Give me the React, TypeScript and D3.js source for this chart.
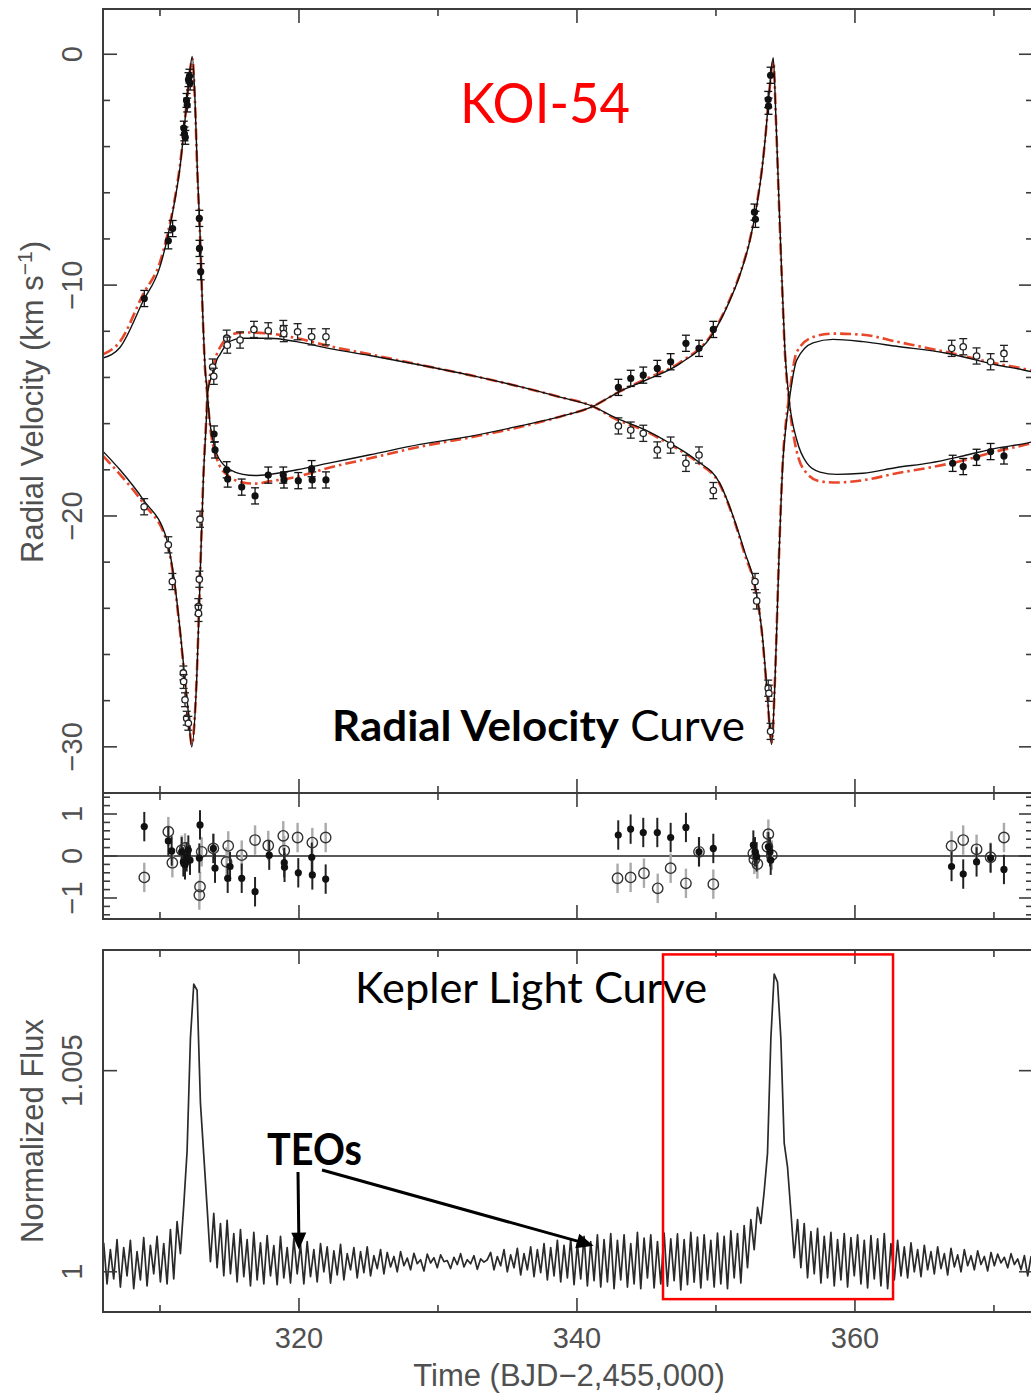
import React from 'react';
import * as d3 from 'd3';

// ---------------- DATA ----------------
// x tick values (BJD-2,455,000)
const xMajorTicks = [320, 340, 360];
const xMinorTicks = [310, 330, 350, 370];
const rvMajorTicks = [0, -10, -20, -30];
const resMajorTicks = [1, 0, -1];
const lcMajorTicks = [1, 1.005];

// Model curves (time, RV km/s)
const modelA: [number, number][] = [
  [305.90, -13.16], [307.12, -12.7], [308.78, -10.7], [310.00, -9.2], [310.50, -8.05], [311.08, -6.3],
  [311.44, -4.9], [311.80, -2.86], [312.09, -1.13], [312.32, -0.1], [312.52, -2.0], [312.68, -4.9],
  [312.88, -7.75], [313.04, -10.65], [313.24, -13.5], [313.41, -14.7], [313.60, -16.0], [313.81, -16.7],
  [314.08, -17.3], [314.46, -17.7], [314.80, -17.9], [315.40, -18.1], [315.97, -18.2], [316.84, -18.25],
  [317.91, -18.2], [319.86, -18.0], [322.23, -17.7], [325.11, -17.35], [328.71, -16.9], [332.30, -16.55],
  [335.90, -16.1], [338.78, -15.7], [341.15, -15.25], [343.09, -14.6], [345.02, -14.1], [347.41, -13.4],
  [349.78, -12.1], [351.01, -10.65], [351.73, -9.55], [352.45, -8.05], [352.95, -6.5], [353.31, -5.0],
  [353.60, -3.3], [353.81, -1.8], [354.12, -0.15], [354.32, -2.86], [354.53, -6.3], [354.75, -9.8],
  [354.96, -12.8], [355.27, -15.0], [355.81, -16.7], [356.53, -17.7], [357.48, -18.1], [358.68, -18.2],
  [360.58, -18.15], [363.00, -17.9], [365.40, -17.7], [367.77, -17.4], [370.20, -17.06], [372.66, -16.8],
  [372.95, -16.75],
];
const modelB: [number, number][] = [
  [305.90, -17.2], [307.12, -18.0], [308.80, -19.3], [310.48, -21.0], [310.96, -22.5], [311.44, -24.9],
  [311.80, -27.1], [312.04, -28.5], [312.28, -30.0], [312.64, -27.1], [312.88, -22.8], [313.12, -18.4],
  [313.36, -15.5], [313.41, -14.75], [313.60, -14.15], [313.84, -13.8], [314.08, -13.25], [314.32, -13.0],
  [314.80, -12.55], [315.40, -12.35], [316.00, -12.3], [317.91, -12.3], [319.83, -12.45], [322.23, -12.75],
  [325.11, -13.05], [328.71, -13.46], [332.30, -13.9], [335.90, -14.4], [338.78, -14.85], [341.15, -15.25],
  [342.61, -15.7], [345.02, -16.3], [346.69, -16.85], [348.61, -17.6], [350.29, -18.6], [351.23, -20.0],
  [352.09, -21.6], [352.81, -23.0], [353.31, -25.0], [353.67, -27.5], [354.00, -29.9], [354.25, -27.1],
  [354.53, -21.9], [354.82, -17.6], [355.04, -16.1], [355.27, -15.0], [355.81, -13.25], [356.98, -12.5],
  [358.42, -12.35], [360.58, -12.45], [363.00, -12.65], [366.60, -12.95], [370.20, -13.46], [372.66, -13.75],
  [372.95, -13.8],
];
// Alternative model (red dash-dot)
const altModelA: [number, number][] = [
  [305.90, -13.0], [307.12, -12.45], [308.78, -10.4], [310.00, -9.0], [310.50, -7.9], [311.08, -6.2],
  [311.44, -4.8], [311.80, -2.8], [312.09, -1.1], [312.33, -0.2], [312.52, -2.1], [312.68, -5.0],
  [312.88, -7.8], [313.04, -10.7], [313.24, -13.6], [313.41, -14.8], [313.60, -16.1], [313.81, -16.9],
  [314.08, -17.5], [314.46, -18.0], [314.80, -18.2], [315.40, -18.45], [315.97, -18.55], [316.84, -18.6],
  [317.91, -18.5], [319.86, -18.3], [322.23, -17.9], [325.11, -17.5], [328.71, -17.0], [332.30, -16.6],
  [335.90, -16.15], [338.78, -15.7], [341.15, -15.25], [343.09, -14.6], [345.02, -14.05], [347.41, -13.35],
  [349.78, -12.05], [351.01, -10.6], [351.73, -9.5], [352.45, -8.0], [352.95, -6.45], [353.31, -4.95],
  [353.60, -3.3], [353.81, -1.8], [354.13, -0.3], [354.32, -2.9], [354.53, -6.4], [354.75, -9.9],
  [354.96, -12.9], [355.27, -15.1], [355.81, -17.2], [356.53, -18.15], [357.48, -18.5], [358.68, -18.55],
  [360.58, -18.45], [363.00, -18.15], [365.40, -17.9], [367.77, -17.6], [370.20, -17.2], [372.66, -16.85],
  [372.95, -16.8],
];
const altModelB: [number, number][] = [
  [305.90, -17.4], [307.12, -18.2], [308.80, -19.45], [310.48, -21.1], [310.96, -22.6], [311.44, -25.0],
  [311.80, -27.2], [312.04, -28.6], [312.29, -29.9], [312.64, -27.0], [312.88, -22.7], [313.12, -18.3],
  [313.36, -15.4], [313.41, -14.7], [313.60, -14.0], [313.84, -13.5], [314.08, -13.0], [314.32, -12.7],
  [314.80, -12.3], [315.40, -12.1], [316.00, -12.05], [317.91, -12.1], [319.83, -12.3], [322.23, -12.65],
  [325.11, -13.0], [328.71, -13.45], [332.30, -13.9], [335.90, -14.4], [338.78, -14.85], [341.15, -15.25],
  [342.61, -15.75], [345.02, -16.35], [346.69, -16.9], [348.61, -17.65], [350.29, -18.65], [351.23, -20.05],
  [352.09, -21.7], [352.81, -23.1], [353.31, -25.1], [353.67, -27.6], [354.01, -29.8], [354.25, -27.0],
  [354.53, -21.8], [354.82, -17.5], [355.04, -15.9], [355.27, -14.8], [355.81, -12.9], [356.98, -12.25],
  [358.42, -12.1], [360.58, -12.15], [363.00, -12.45], [366.60, -12.9], [370.20, -13.4], [372.66, -13.7],
  [372.95, -13.75],
];

// Observed RVs: [time, RV, error]
const obsA: [number, number, number][] = [
  [308.87, -10.58, 0.35], [310.60, -8.08, 0.35], [310.91, -7.55, 0.35], [311.71, -3.2, 0.3], [311.76, -3.45, 0.3],
  [311.82, -3.6, 0.3], [311.91, -2.0, 0.3], [311.96, -2.2, 0.3], [312.05, -1.1, 0.3], [312.12, -0.95, 0.3],
  [312.17, -1.25, 0.3], [312.83, -7.11, 0.35], [312.84, -8.41, 0.35], [312.93, -9.42, 0.35], [313.89, -16.45, 0.35],
  [313.96, -17.14, 0.35], [314.80, -18.0, 0.35], [314.87, -18.4, 0.35], [315.88, -18.75, 0.35], [316.84, -19.13, 0.35],
  [317.79, -18.23, 0.35], [318.87, -18.23, 0.35], [318.92, -18.44, 0.35], [319.95, -18.47, 0.35], [320.91, -17.95, 0.35],
  [320.95, -18.44, 0.35], [321.94, -18.44, 0.35],
  [342.98, -14.43, 0.35], [343.87, -14.04, 0.35], [344.77, -13.9, 0.35], [345.78, -13.61, 0.35], [346.74, -13.32, 0.35],
  [347.84, -12.52, 0.35], [348.78, -12.74, 0.35], [349.81, -11.92, 0.35], [352.77, -6.84, 0.35], [352.84, -7.15, 0.35],
  [353.76, -1.96, 0.35], [353.78, -2.25, 0.35], [353.93, -0.91, 0.35],
  [367.03, -17.72, 0.35], [367.79, -17.86, 0.35], [368.75, -17.46, 0.35], [369.76, -17.21, 0.35], [370.72, -17.4, 0.35],
];
const obsB: [number, number, number][] = [
  [308.86, -19.6, 0.35], [310.60, -21.25, 0.35], [310.89, -22.84, 0.35], [311.68, -26.8, 0.3], [311.70, -27.17, 0.3],
  [311.80, -27.96, 0.3], [311.92, -28.76, 0.3], [312.04, -28.98, 0.3], [312.88, -20.14, 0.35], [312.83, -22.74, 0.35],
  [312.76, -23.93, 0.35], [312.77, -24.22, 0.35], [313.79, -13.55, 0.35], [313.87, -13.95, 0.35], [314.80, -12.3, 0.35],
  [314.84, -12.6, 0.35], [315.76, -12.38, 0.35], [316.76, -11.92, 0.35], [317.79, -11.98, 0.35], [318.87, -11.88, 0.35],
  [318.91, -12.1, 0.35], [319.90, -12.02, 0.35], [320.91, -12.24, 0.35], [321.94, -12.24, 0.35],
  [342.98, -16.1, 0.35], [343.87, -16.28, 0.35], [344.77, -16.42, 0.35], [345.78, -17.14, 0.35], [346.74, -16.93, 0.35],
  [347.84, -17.72, 0.35], [348.78, -17.36, 0.35], [349.81, -18.9, 0.35], [352.81, -22.84, 0.35], [352.93, -23.68, 0.35],
  [353.76, -27.46, 0.35], [353.81, -27.68, 0.35], [353.93, -29.33, 0.35],
  [366.96, -12.74, 0.35], [367.79, -12.67, 0.35], [368.75, -13.07, 0.35], [369.76, -13.32, 0.35], [370.72, -12.96, 0.35],
];

// Residuals (O-C, km/s): [time, residual]
const resA: [number, number][] = [
  [308.87, 0.70], [310.60, 0.36], [310.84, 0.12], [311.56, 0.10], [311.68, -0.14], [311.80, -0.21], [311.92, -0.02],
  [312.04, 0.14], [312.16, -0.10], [312.88, 0.74], [312.83, -0.05], [313.84, 0.18], [313.96, -0.29], [314.87, -0.53],
  [315.04, -0.25], [315.88, -0.53], [316.84, -0.85], [317.86, 0.02], [318.94, -0.16], [318.96, -0.27], [319.95, -0.40],
  [320.96, -0.45], [320.92, -0.03], [321.92, -0.55],
  [342.97, 0.50], [343.86, 0.64], [344.77, 0.56], [345.78, 0.56], [346.74, 0.44], [347.84, 0.68], [348.78, 0.10],
  [349.81, 0.18], [352.69, 0.26], [352.81, 0.10], [352.93, -0.02], [353.77, 0.22], [353.89, 0.10], [353.94, -0.10],
  [366.95, -0.25], [367.79, -0.43], [368.75, -0.14], [369.76, -0.05], [370.72, -0.32],
];
const resB: [number, number][] = [
  [308.87, -0.51], [310.60, 0.58], [310.89, -0.16], [311.56, 0.14], [311.80, 0.19], [312.88, -0.73], [312.83, -0.93],
  [313.00, 0.10], [313.84, 0.18], [314.91, 0.24], [314.79, -0.14], [315.88, 0.02], [316.84, 0.38], [317.79, 0.25],
  [318.87, 0.48], [318.94, 0.13], [319.90, 0.44], [320.96, 0.32], [321.92, 0.44],
  [342.92, -0.53], [343.86, -0.51], [344.82, -0.41], [345.81, -0.77], [346.74, -0.29], [347.84, -0.65], [348.78, 0.10],
  [349.81, -0.67], [352.69, 0.06], [352.76, -0.08], [352.98, -0.19], [353.77, 0.52], [353.70, 0.22], [354.02, 0.02],
  [366.95, 0.24], [367.79, 0.38], [368.75, 0.16], [369.76, -0.03], [370.72, 0.44],
];

// Kepler light curve: regular cadence, flux excess in parts per thousand
const lcStart = 305.95;
const lcStep = 0.24;
const lcFluxPpt = [
  0.72, -0.30, 0.55, -0.18, 0.80, -0.38, 0.60, -0.10, 0.78, -0.42,
  0.50, -0.20, 0.85, -0.35, 0.66, -0.05, 0.88, -0.25, 0.70, -0.30,
  1.05, -0.18, 1.25, 0.45, 1.65, 3.00, 5.80, 7.15, 7.00, 4.20,
  2.90, 1.60, 0.25, 1.45, 0.10, 1.20, -0.10, 1.28, -0.05, 0.95,
  -0.25, 1.05, -0.12, 0.80, -0.35, 0.98, -0.20, 0.72, -0.30, 0.90,
  -0.10, 0.65, -0.32, 0.88, -0.15, 0.60, -0.28, 0.82, -0.05, 0.68,
  -0.30, 0.75, -0.12, 0.55, -0.25, 0.70, 0.00, 0.62, -0.28, 0.52,
  -0.08, 0.68, -0.20, 0.45, 0.05, 0.60, -0.15, 0.50, -0.02, 0.62,
  -0.10, 0.40, 0.08, 0.55, -0.05, 0.48, 0.12, 0.38, 0.00, 0.50,
  0.15, 0.34, 0.05, 0.46, 0.20, 0.30, 0.02, 0.44, 0.22, 0.35,
  0.10, 0.42, 0.25, 0.28, 0.08, 0.36, 0.18, 0.45, 0.12, 0.30,
  0.20, 0.40, 0.06, 0.32, 0.24, 0.30, 0.48, 0.05, 0.38, 0.15,
  0.55, 0.00, 0.42, 0.10, 0.58, -0.08, 0.45, 0.05, 0.62, -0.12,
  0.55, -0.02, 0.70, -0.20, 0.60, -0.10, 0.78, -0.25, 0.66, -0.15,
  0.82, -0.32, 0.70, -0.18, 0.88, -0.35, 0.75, -0.22, 0.92, -0.38,
  0.80, -0.25, 0.95, -0.42, 0.78, -0.20, 0.92, -0.38, 0.70, -0.30,
  0.98, -0.42, 0.84, -0.15, 0.92, -0.40, 0.75, -0.30, 0.96, -0.36,
  0.82, -0.22, 0.94, -0.45, 0.80, -0.32, 0.98, -0.26, 0.86, -0.40,
  0.92, -0.20, 0.78, -0.38, 0.96, -0.30, 0.88, -0.42, 1.02, -0.15,
  0.95, -0.28, 1.15, 0.10, 1.30, 0.55, 1.60, 1.20, 2.00, 2.95,
  5.80, 7.40, 7.20, 5.80, 3.20, 2.60, 1.50, 0.35, 1.30, 0.10,
  1.20, -0.15, 1.00, -0.05, 1.08, -0.28, 0.88, -0.15, 0.98, -0.35,
  0.80, -0.20, 0.95, -0.38, 0.85, -0.10, 0.92, -0.30, 0.78, -0.40,
  0.90, -0.18, 0.82, -0.35, 0.95, -0.42, 0.70, -0.20, 0.78, -0.10,
  0.62, -0.15, 0.72, 0.00, 0.55, -0.12, 0.66, 0.05, 0.50, -0.05,
  0.62, 0.08, 0.45, -0.08, 0.58, 0.12, 0.42, 0.00, 0.55, 0.15,
  0.40, 0.05, 0.52, 0.18, 0.38, 0.02, 0.48, 0.15, 0.44, 0.22,
  0.36, 0.10, 0.45, 0.18, 0.32, 0.05, 0.40, -0.10, 0.38, 0.10,
];

// Annotation anchor values (data coordinates)
const teoTargets: [number, number][] = [[320.0, 1.00055], [341.2, 1.00065]];
const zoomBox = { t0: 346.19, t1: 362.74, f0: 0.99932, f1: 1.00789 };

// ---------------- CHART ----------------
const AX = '#3c3c3c';
const TXT = '#505050';
const AXFONT = "'Liberation Sans', Arial, sans-serif";
const ANFONT = "Lato, 'Open Sans', sans-serif";

export default function App() {
  const W = 1031, H = 1395;
  const left = 103, right = 1033;
  const x = d3.scaleLinear().domain([305.9, 372.81]).range([left, right]);

  const rvTop = 9, rvBot = 793;
  const resTop = 793, resBot = 919;
  const lcTop = 950, lcBot = 1312;
  const yRV = d3.scaleLinear().domain([-32.0, 1.96]).range([rvBot, rvTop]);
  const yRes = d3.scaleLinear().domain([-1.5, 1.5]).range([resBot, resTop]);
  const yLC = d3.scaleLinear().domain([0.999, 1.008]).range([lcBot, lcTop]);

  const rvLine = d3.line<[number, number]>().x(d => x(d[0])).y(d => yRV(d[1])).curve(d3.curveMonotoneX);
  const lcPoints: [number, number][] = lcFluxPpt.map((v, i) => [lcStart + i * lcStep, 1 + v / 1000]);
  const lcLine = d3.line<[number, number]>().x(d => x(d[0])).y(d => yLC(d[1]));

  const rvMinor = d3.range(-30, 1, 2).filter(v => v % 10 !== 0);
  const resMinor = d3.range(-7, 8).map(k => k * 0.2).filter(v => Math.abs(Math.round(v * 10) % 10) !== 0);

  const xTicks = (yT: number, yB: number, key: string) => (
    <g key={key} stroke={AX} strokeWidth={1.6}>
      {xMajorTicks.map(t => (
        <g key={'M' + t}>
          <line x1={x(t)} x2={x(t)} y1={yT} y2={yT + 14} />
          <line x1={x(t)} x2={x(t)} y1={yB} y2={yB - 14} />
        </g>
      ))}
      {xMinorTicks.map(t => (
        <g key={'m' + t}>
          <line x1={x(t)} x2={x(t)} y1={yT} y2={yT + 7} />
          <line x1={x(t)} x2={x(t)} y1={yB} y2={yB - 7} />
        </g>
      ))}
    </g>
  );

  const yTicks = (scale: d3.ScaleLinear<number, number>, majors: number[], minors: number[], key: string) => (
    <g key={key} stroke={AX} strokeWidth={1.6}>
      {majors.map(v => (
        <g key={'M' + v}>
          <line x1={left} x2={left + 14} y1={scale(v)} y2={scale(v)} />
          <line x1={right} x2={right - 14} y1={scale(v)} y2={scale(v)} />
        </g>
      ))}
      {minors.map(v => (
        <g key={'m' + v}>
          <line x1={left} x2={left + 7} y1={scale(v)} y2={scale(v)} />
          <line x1={right} x2={right - 7} y1={scale(v)} y2={scale(v)} />
        </g>
      ))}
    </g>
  );

  const fmtRV = (v: number) => (v < 0 ? '\u2212' + Math.abs(v) : String(v));

  const arrowHead = (x1: number, y1: number, x2: number, y2: number) => {
    const ang = Math.atan2(y2 - y1, x2 - x1);
    const L = 17, hw = 7.5;
    const bx = x2 - L * Math.cos(ang), by = y2 - L * Math.sin(ang);
    const px = -Math.sin(ang) * hw, py = Math.cos(ang) * hw;
    return `M${x2},${y2}L${bx + px},${by + py}L${bx - px},${by - py}Z`;
  };

  const teoStart: [number, number][] = [[298, 1172], [322, 1170]];

  return (
    <svg width={W} height={H} viewBox={`0 0 ${W} ${H}`}
      style={{ position: 'absolute', left: 0, top: 0, background: '#fff', overflow: 'hidden' }}>
      <defs>
        <clipPath id="clipRV"><rect x={left} y={rvTop} width={right - left} height={rvBot - rvTop} /></clipPath>
        <clipPath id="clipLC"><rect x={left} y={lcTop} width={right - left} height={lcBot - lcTop} /></clipPath>
      </defs>
      <rect x={0} y={0} width={W} height={H} fill="#fff" />

      {/* ===== RV panel ===== */}
      <g clipPath="url(#clipRV)">
        <path d={rvLine(altModelA) || ''} fill="none" stroke="#e8472a" strokeWidth={2.6} strokeDasharray="11 4 2.5 4" />
        <path d={rvLine(altModelB) || ''} fill="none" stroke="#e8472a" strokeWidth={2.6} strokeDasharray="11 4 2.5 4" />
        <path d={rvLine(modelA) || ''} fill="none" stroke="#111" strokeWidth={1.4} />
        <path d={rvLine(modelB) || ''} fill="none" stroke="#111" strokeWidth={1.4} />
        {obsB.map((d, i) => (
          <g key={'b' + i} stroke="#222" strokeWidth={1.3}>
            <line x1={x(d[0])} x2={x(d[0])} y1={yRV(d[1] - d[2])} y2={yRV(d[1] + d[2])} />
            <line x1={x(d[0]) - 4} x2={x(d[0]) + 4} y1={yRV(d[1] - d[2])} y2={yRV(d[1] - d[2])} />
            <line x1={x(d[0]) - 4} x2={x(d[0]) + 4} y1={yRV(d[1] + d[2])} y2={yRV(d[1] + d[2])} />
            <circle cx={x(d[0])} cy={yRV(d[1])} r={3.2} fill="#fff" />
          </g>
        ))}
        {obsA.map((d, i) => (
          <g key={'a' + i} stroke="#111" strokeWidth={1.3}>
            <line x1={x(d[0])} x2={x(d[0])} y1={yRV(d[1] - d[2])} y2={yRV(d[1] + d[2])} />
            <line x1={x(d[0]) - 4} x2={x(d[0]) + 4} y1={yRV(d[1] - d[2])} y2={yRV(d[1] - d[2])} />
            <line x1={x(d[0]) - 4} x2={x(d[0]) + 4} y1={yRV(d[1] + d[2])} y2={yRV(d[1] + d[2])} />
            <circle cx={x(d[0])} cy={yRV(d[1])} r={3.6} fill="#111" stroke="none" />
          </g>
        ))}
      </g>
      {xTicks(rvTop, rvBot, 'xrv')}
      {yTicks(yRV, rvMajorTicks, rvMinor, 'yrv')}
      <rect x={left} y={rvTop} width={right - left} height={rvBot - rvTop} fill="none" stroke={AX} strokeWidth={2} />
      {rvMajorTicks.map(v => (
        <text key={'rl' + v} transform={`translate(82,${yRV(v)}) rotate(-90)`} textAnchor="middle"
          fontFamily={AXFONT} fontSize={29} fill={TXT}>{fmtRV(v)}</text>
      ))}
      <text transform={`translate(43,402) rotate(-90)`} textAnchor="middle" fontFamily={AXFONT} fontSize={31} fill={TXT}>
        Radial Velocity (km s<tspan dy={-11} fontSize={21}>{'\u2212'}1</tspan><tspan dy={11}>)</tspan>
      </text>

      {/* ===== Residual panel ===== */}
      <line x1={left} x2={right} y1={yRes(0)} y2={yRes(0)} stroke="#222" strokeWidth={1.5} />
      {resB.map((d, i) => (
        <line key={'reb' + i} x1={x(d[0])} x2={x(d[0])} y1={yRes(d[1] - 0.35)} y2={yRes(d[1] + 0.35)} stroke="#aaa" strokeWidth={2.4} />
      ))}
      {resA.map((d, i) => (
        <line key={'rea' + i} x1={x(d[0])} x2={x(d[0])} y1={yRes(d[1] - 0.35)} y2={yRes(d[1] + 0.35)} stroke="#222" strokeWidth={2} />
      ))}
      {resB.map((d, i) => (
        <circle key={'rb' + i} cx={x(d[0])} cy={yRes(d[1])} r={5.2} fill="none" stroke="#333" strokeWidth={1.4} />
      ))}
      {resA.map((d, i) => (
        <circle key={'ra' + i} cx={x(d[0])} cy={yRes(d[1])} r={3.6} fill="#111" />
      ))}
      {xTicks(resTop, resBot, 'xres')}
      {yTicks(yRes, resMajorTicks, resMinor, 'yres')}
      <rect x={left} y={resTop} width={right - left} height={resBot - resTop} fill="none" stroke={AX} strokeWidth={2} />
      {resMajorTicks.map(v => (
        <text key={'resl' + v} transform={`translate(82,${yRes(v)}) rotate(-90)`} textAnchor="middle"
          fontFamily={AXFONT} fontSize={29} fill={TXT}>{fmtRV(v)}</text>
      ))}

      {/* ===== Light curve panel ===== */}
      <g clipPath="url(#clipLC)">
        <path d={lcLine(lcPoints) || ''} fill="none" stroke="#2a2a2a" strokeWidth={1.7} strokeLinejoin="round" />
      </g>
      {xTicks(lcTop, lcBot, 'xlc')}
      {yTicks(yLC, lcMajorTicks, [], 'ylc')}
      <rect x={left} y={lcTop} width={right - left} height={lcBot - lcTop} fill="none" stroke={AX} strokeWidth={2} />
      {lcMajorTicks.map(v => (
        <text key={'lcl' + v} transform={`translate(82,${yLC(v)}) rotate(-90)`} textAnchor="middle"
          fontFamily={AXFONT} fontSize={29} fill={TXT}>{String(v)}</text>
      ))}
      <text transform={`translate(43,1131) rotate(-90)`} textAnchor="middle" fontFamily={AXFONT} fontSize={31} fill={TXT}>
        Normalized Flux
      </text>
      {xMajorTicks.map(t => (
        <text key={'xl' + t} x={x(t)} y={1348} textAnchor="middle" fontFamily={AXFONT} fontSize={29} fill={TXT}>{t}</text>
      ))}
      <text x={569} y={1386} textAnchor="middle" fontFamily={AXFONT} fontSize={31} fill={TXT}>
        Time (BJD{'\u2212'}2,455,000)
      </text>

      {/* ===== Annotations ===== */}
      <text x={545} y={123} textAnchor="middle" fontFamily={ANFONT} fontSize={57} fill="#ff0000"
        textLength={170} lengthAdjust="spacingAndGlyphs">KOI-54</text>
      <text x={332} y={741} fontFamily={ANFONT} fontSize={42} fill="#000" textLength={413} lengthAdjust="spacingAndGlyphs">
        <tspan fontWeight="bold">Radial Velocity</tspan> Curve
      </text>
      <text x={355} y={1003} fontFamily={ANFONT} fontSize={42} fill="#000" textLength={352} lengthAdjust="spacingAndGlyphs">
        Kepler Light Curve
      </text>
      <text x={267} y={1165} fontFamily={ANFONT} fontSize={44} fontWeight="bold" fill="#000" textLength={95} lengthAdjust="spacingAndGlyphs">
        TEOs
      </text>
      {teoTargets.map((tg, i) => {
        const [sx, sy] = teoStart[i];
        const tx = x(tg[0]), ty = yLC(tg[1]);
        const ang = Math.atan2(ty - sy, tx - sx);
        return (
          <g key={'ar' + i}>
            <line x1={sx} y1={sy} x2={tx - 14 * Math.cos(ang)} y2={ty - 14 * Math.sin(ang)} stroke="#000" strokeWidth={3} />
            <path d={arrowHead(sx, sy, tx, ty)} fill="#000" />
          </g>
        );
      })}
      <rect x={x(zoomBox.t0)} y={yLC(zoomBox.f1)} width={x(zoomBox.t1) - x(zoomBox.t0)} height={yLC(zoomBox.f0) - yLC(zoomBox.f1)}
        fill="none" stroke="#f00" strokeWidth={2.5} />
    </svg>
  );
}
